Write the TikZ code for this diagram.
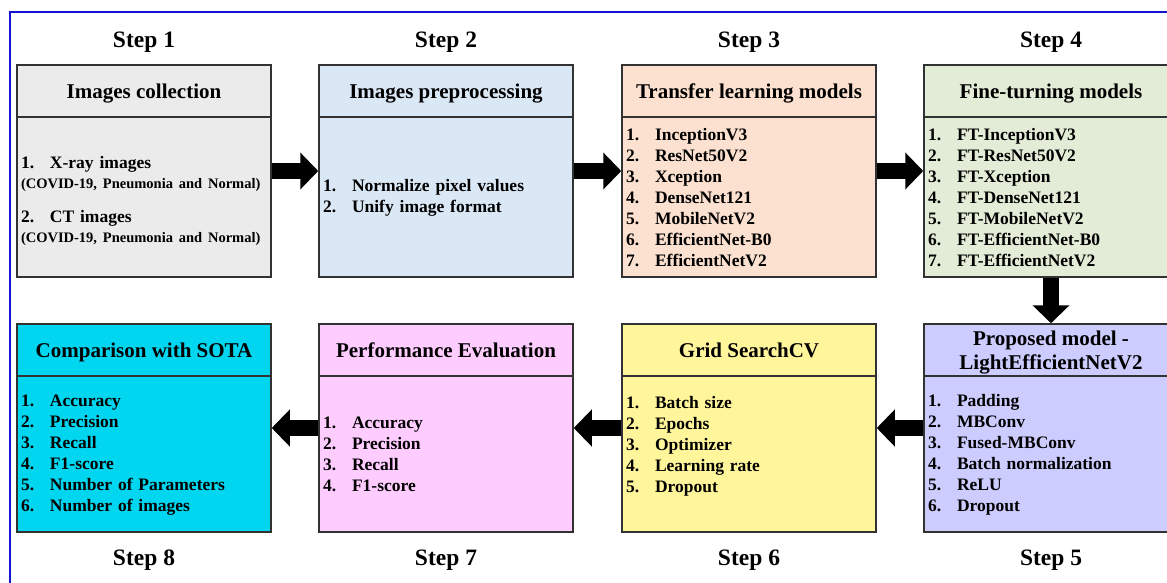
\documentclass[tikz,border=0pt]{standalone}
\usepackage{fontspec}
\setmainfont{Liberation Serif}
\usetikzlibrary{arrows.meta,positioning,calc}
\definecolor{framebl}{RGB}{20,20,215}
\definecolor{boxline}{RGB}{50,50,50}
\definecolor{collectgray}{RGB}{235,235,235}
\definecolor{prepblue}{RGB}{218,231,245}
\definecolor{transpeach}{RGB}{252,225,208}
\definecolor{tunegreen}{RGB}{227,236,215}
\definecolor{proplav}{RGB}{204,204,255}
\definecolor{gridyellow}{RGB}{255,245,155}
\definecolor{evalpink}{RGB}{255,204,255}
\definecolor{sotacyan}{RGB}{0,214,240}
\newcommand{\stepitem}[2]{\makebox[29pt][l]{#1.}#2}

\begin{document}
\begin{tikzpicture}[x=1pt, y=-1pt,
    stepbox/.style={draw=boxline, line width=1.5pt, minimum width=254pt, inner sep=0pt},
    headbox/.style={draw=boxline, line width=1.5pt, minimum width=254pt, minimum height=52pt,
        inner sep=0pt, anchor=north, align=center, text depth=0pt, font=\fontsize{21}{24}\selectfont\bfseries},
    itemlist/.style={text width=246pt, align=left, inner sep=0pt, font=\fontsize{17.5}{21}\selectfont\bfseries},
    steplbl/.style={font=\fontsize{23.5}{26}\selectfont\bfseries},
    bigarrow/.style={line width=16pt, -{Triangle[length=18pt,width=36pt]}}]
    \clip (0,0) rectangle (1167,583);
    \fill[white] (0,0) rectangle (1167,583);

    % Outer frame
    \draw[framebl, line width=2pt] (10,600) -- (10,12) -- (1190,12);

    % Step labels
    \node[steplbl] (s1) at (144,42) {Step 1};
    \node[steplbl] (s2) at (446,42) {Step 2};
    \node[steplbl] (s3) at (749,42) {Step 3};
    \node[steplbl] (s4) at (1051,42) {Step 4};
    \node[steplbl] (s8) at (144,560) {Step 8};
    \node[steplbl] (s7) at (446,560) {Step 7};
    \node[steplbl] (s6) at (749,560) {Step 6};
    \node[steplbl] (s5) at (1051,560) {Step 5};

    % Step 1: images collection
    \node[stepbox, minimum height=212pt, fill=collectgray] (box1) at (144,171) {};
    \node[headbox] (h1) at (box1.north) {Images collection};
    \node[itemlist, font=\fontsize{17.5}{20}\selectfont\bfseries] (l1) at ($(h1.south)!0.5!(box1.south)+(0,3)$)
        {\stepitem{1}{X-ray images}\\
         {\fontsize{14.5}{20}\selectfont(COVID-19, Pneumonia and Normal)}\\[14pt]
         \stepitem{2}{CT images}\\
         {\fontsize{14.5}{20}\selectfont(COVID-19, Pneumonia and Normal)}};

    % Step 2: preprocessing
    \node[stepbox, minimum height=212pt, fill=prepblue] (box2) at (446,171) {};
    \node[headbox] (h2) at (box2.north) {Images preprocessing};
    \node[itemlist] (l2) at ($(h2.south)!0.5!(box2.south)$)
        {\stepitem{1}{Normalize pixel values}\\ \stepitem{2}{Unify image format}};

    % Step 3: transfer learning
    \node[stepbox, minimum height=212pt, fill=transpeach] (box3) at (749,171) {};
    \node[headbox] (h3) at (box3.north) {Transfer learning models};
    \node[itemlist] (l3) at ($(h3.south)!0.5!(box3.south)$)
        {\stepitem{1}{InceptionV3}\\ \stepitem{2}{ResNet50V2}\\ \stepitem{3}{Xception}\\
         \stepitem{4}{DenseNet121}\\ \stepitem{5}{MobileNetV2}\\ \stepitem{6}{EfficientNet-B0}\\
         \stepitem{7}{EfficientNetV2}};

    % Step 4: fine-tuning
    \node[stepbox, minimum height=212pt, fill=tunegreen] (box4) at (1051,171) {};
    \node[headbox] (h4) at (box4.north) {Fine-turning models};
    \node[itemlist] (l4) at ($(h4.south)!0.5!(box4.south)$)
        {\stepitem{1}{FT-InceptionV3}\\ \stepitem{2}{FT-ResNet50V2}\\ \stepitem{3}{FT-Xception}\\
         \stepitem{4}{FT-DenseNet121}\\ \stepitem{5}{FT-MobileNetV2}\\ \stepitem{6}{FT-EfficientNet-B0}\\
         \stepitem{7}{FT-EfficientNetV2}};

    % Step 5: proposed model
    \node[stepbox, minimum height=208pt, fill=proplav] (box5) at (1051,428) {};
    \node[headbox] (h5) at (box5.north) {Proposed model -\\LightEfficientNetV2};
    \node[itemlist] (l5) at ($(h5.south)!0.5!(box5.south)$)
        {\stepitem{1}{Padding}\\ \stepitem{2}{MBConv}\\ \stepitem{3}{Fused-MBConv}\\
         \stepitem{4}{Batch normalization}\\ \stepitem{5}{ReLU}\\ \stepitem{6}{Dropout}};

    % Step 6: grid search
    \node[stepbox, minimum height=208pt, fill=gridyellow] (box6) at (749,428) {};
    \node[headbox] (h6) at (box6.north) {Grid SearchCV};
    \node[itemlist, anchor=north] (l6) at ([yshift=-19pt]h6.south)
        {\stepitem{1}{Batch size}\\ \stepitem{2}{Epochs}\\ \stepitem{3}{Optimizer}\\
         \stepitem{4}{Learning rate}\\ \stepitem{5}{Dropout}};

    % Step 7: evaluation
    \node[stepbox, minimum height=208pt, fill=evalpink] (box7) at (446,428) {};
    \node[headbox] (h7) at (box7.north) {Performance Evaluation};
    \node[itemlist] (l7) at ($(h7.south)!0.5!(box7.south)$)
        {\stepitem{1}{Accuracy}\\ \stepitem{2}{Precision}\\ \stepitem{3}{Recall}\\ \stepitem{4}{F1-score}};

    % Step 8: comparison
    \node[stepbox, minimum height=208pt, fill=sotacyan] (box8) at (144,428) {};
    \node[headbox] (h8) at (box8.north) {Comparison with SOTA};
    \node[itemlist] (l8) at ($(h8.south)!0.5!(box8.south)$)
        {\stepitem{1}{Accuracy}\\ \stepitem{2}{Precision}\\ \stepitem{3}{Recall}\\ \stepitem{4}{F1-score}\\
         \stepitem{5}{Number of Parameters}\\ \stepitem{6}{Number of images}};

    % Flow arrows
    \draw[bigarrow] (box1) -- (box2);
    \draw[bigarrow] (box2) -- (box3);
    \draw[bigarrow] (box3) -- (box4);
    \draw[bigarrow] (box4) -- (box5);
    \draw[bigarrow] (box5) -- (box6);
    \draw[bigarrow] (box6) -- (box7);
    \draw[bigarrow] (box7) -- (box8);
\end{tikzpicture}
\end{document}
